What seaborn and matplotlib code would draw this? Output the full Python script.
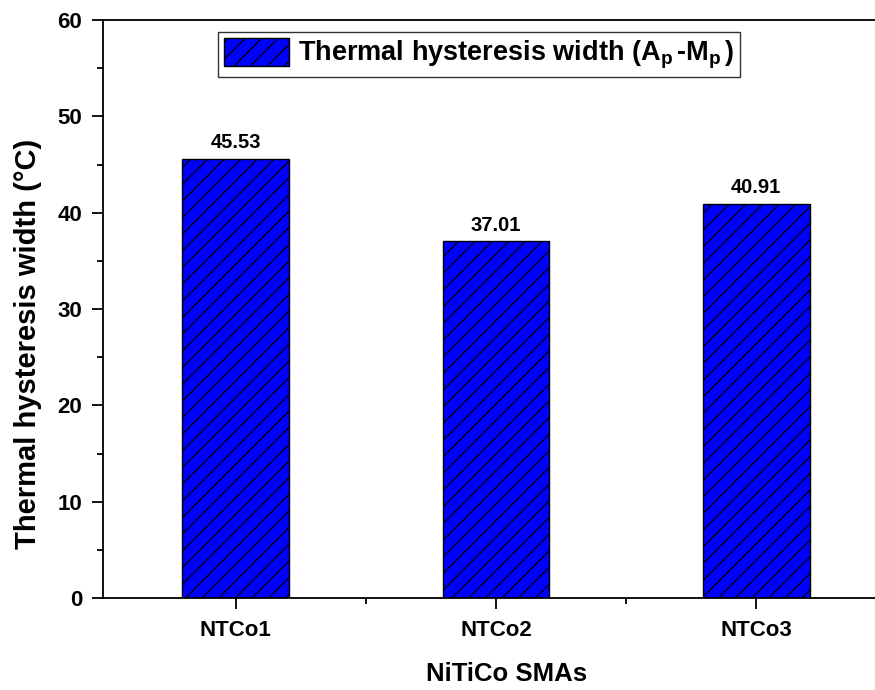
import matplotlib
matplotlib.use("Agg")
import matplotlib.pyplot as plt
from matplotlib.patches import Patch
from matplotlib.ticker import MultipleLocator, FixedLocator
import seaborn as sns
import pandas as pd

# Thermal hysteresis width (Ap - Mp) of the NiTiCo shape memory alloys
samples = ["NTCo1", "NTCo2", "NTCo3"]
hysteresis_width = [45.53, 37.01, 40.91]
value_labels = ["45.53", "37.01", "40.91"]
y_ticks = [0, 10, 20, 30, 40, 50, 60]

sns.set_style("ticks")
plt.rcParams["font.family"] = ["Liberation Sans", "DejaVu Sans"]
plt.rcParams["font.weight"] = "bold"
plt.rcParams["text.color"] = "black"
plt.rcParams["axes.labelcolor"] = "black"
plt.rcParams["xtick.color"] = "black"
plt.rcParams["ytick.color"] = "black"
plt.rcParams["mathtext.fontset"] = "custom"
plt.rcParams["mathtext.rm"] = "Liberation Sans:bold"
plt.rcParams["mathtext.it"] = "Liberation Sans:bold"
plt.rcParams["mathtext.bf"] = "Liberation Sans:bold"
plt.rcParams["hatch.linewidth"] = 0.9
plt.rcParams["hatch.color"] = "black"

df = pd.DataFrame({"sample": samples, "width": hysteresis_width})

W, H = 875, 690
fig = plt.figure(figsize=(W / 100, H / 100), dpi=100)
ax = fig.add_axes([103 / W, 92 / H, 786 / W, 578 / H])

bar_color = "#0000ff"
sns.barplot(data=df, x="sample", y="width", color=bar_color, saturation=1,
            width=0.41, edgecolor="black", linewidth=1.0, hatch="//", ax=ax)

ax.bar_label(ax.containers[0], labels=value_labels, padding=5,
             fontsize=14.5, fontweight="bold", color="black")

ax.set_ylim(0, 60)
ax.set_xlim(-0.51, 2.51)
ax.yaxis.set_major_locator(FixedLocator(y_ticks))
ax.yaxis.set_minor_locator(MultipleLocator(5))
ax.xaxis.set_minor_locator(FixedLocator([0.5, 1.5]))

for side in ["top", "right", "left", "bottom"]:
    ax.spines[side].set_visible(True)
    ax.spines[side].set_linewidth(1.3)
    ax.spines[side].set_color("black")

ax.tick_params(axis="both", which="major", direction="out", length=8, width=1.3,
               labelsize=16, top=False, right=False)
ax.tick_params(axis="y", which="major", pad=7)
ax.tick_params(axis="x", which="major", pad=8)
ax.tick_params(axis="both", which="minor", direction="out", length=4.5, width=1.3,
               top=False, right=False)
for lbl in ax.get_xticklabels() + ax.get_yticklabels():
    lbl.set_fontweight("bold")

ax.set_xlabel("NiTiCo SMAs", fontsize=18.5, fontweight="bold")
ax.xaxis.set_label_coords(0.514, -0.11)
ax.set_ylabel("Thermal hysteresis width (°C)", fontsize=21, fontweight="bold")
ax.yaxis.set_label_coords(-0.078, 0.44)

handle = Patch(facecolor=bar_color, edgecolor="black", hatch="//", linewidth=1.0)
leg = ax.legend([handle],
                ["Thermal hysteresis width (A$_\\mathrm{p}\\,$-M$_\\mathrm{p}\\,$)"],
                loc="upper center", bbox_to_anchor=(479 / W, 1 - 32 / H),
                bbox_transform=fig.transFigure, fontsize=19.5, frameon=True,
                fancybox=False, framealpha=1, edgecolor="#333333",
                handlelength=2.4, handleheight=1.2, borderpad=0.22,
                borderaxespad=0, handletextpad=0.35)
leg.get_frame().set_linewidth(1.0)
for t in leg.get_texts():
    t.set_fontweight("bold")

fig.savefig("out.png", dpi=100)
